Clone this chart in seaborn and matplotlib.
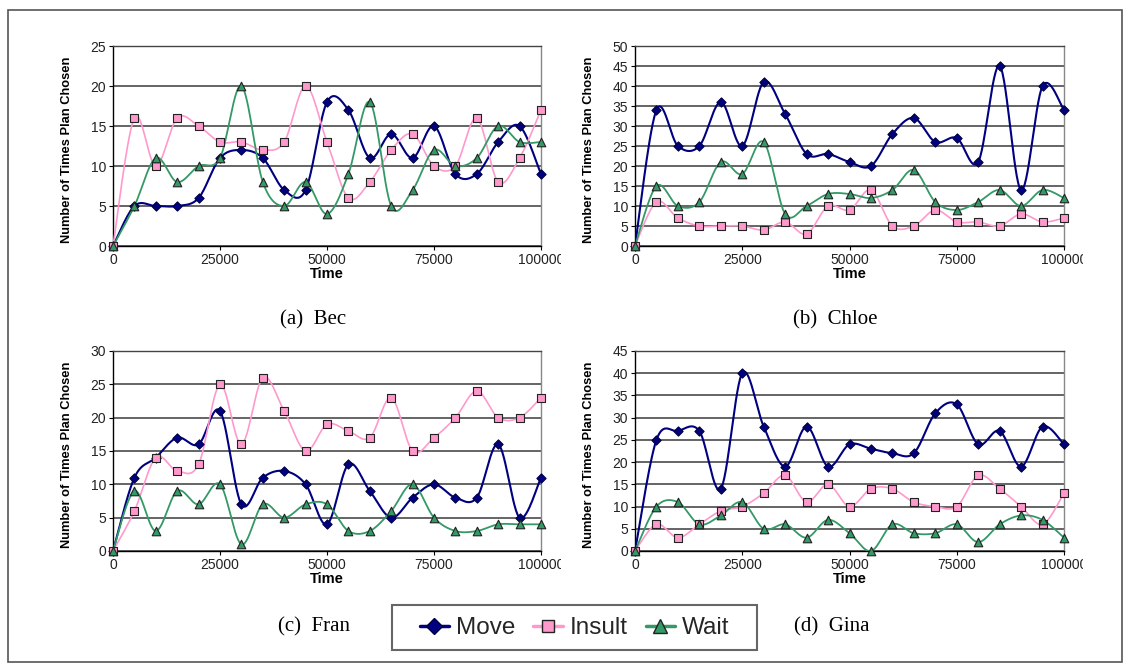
import numpy as np
import pandas as pd
import matplotlib
matplotlib.use("Agg")
import matplotlib.pyplot as plt
import seaborn as sns
from matplotlib.lines import Line2D
from matplotlib.patches import Rectangle
from matplotlib.transforms import Bbox, TransformedBbox

# ---------------- data ----------------
time = list(range(0, 100001, 5000))
plans = ["Move", "Insult", "Wait"]

bec_move   = [0, 5, 5, 5, 6, 11, 12, 11, 7, 7, 18, 17, 11, 14, 11, 15, 9, 9, 13, 15, 9]
bec_insult = [0, 16, 10, 16, 15, 13, 13, 12, 13, 20, 13, 6, 8, 12, 14, 10, 10, 16, 8, 11, 17]
bec_wait   = [0, 5, 11, 8, 10, 11, 20, 8, 5, 8, 4, 9, 18, 5, 7, 12, 10, 11, 15, 13, 13]

chloe_move   = [0, 34, 25, 25, 36, 25, 41, 33, 23, 23, 21, 20, 28, 32, 26, 27, 21, 45, 14, 40, 34]
chloe_insult = [0, 11, 7, 5, 5, 5, 4, 6, 3, 10, 9, 14, 5, 5, 9, 6, 6, 5, 8, 6, 7]
chloe_wait   = [0, 15, 10, 11, 21, 18, 26, 8, 10, 13, 13, 12, 14, 19, 11, 9, 11, 14, 10, 14, 12]

fran_move   = [0, 11, 14, 17, 16, 21, 7, 11, 12, 10, 4, 13, 9, 5, 8, 10, 8, 8, 16, 5, 11]
fran_insult = [0, 6, 14, 12, 13, 25, 16, 26, 21, 15, 19, 18, 17, 23, 15, 17, 20, 24, 20, 20, 23]
fran_wait   = [0, 9, 3, 9, 7, 10, 1, 7, 5, 7, 7, 3, 3, 6, 10, 5, 3, 3, 4, 4, 4]

gina_move   = [0, 25, 27, 27, 14, 40, 28, 19, 28, 19, 24, 23, 22, 22, 31, 33, 24, 27, 19, 28, 24]
gina_insult = [0, 6, 3, 6, 9, 10, 13, 17, 11, 15, 10, 14, 14, 11, 10, 10, 17, 14, 10, 6, 13]
gina_wait   = [0, 10, 11, 6, 8, 11, 5, 6, 3, 7, 4, 0, 6, 4, 4, 6, 2, 6, 8, 7, 3]

panels = [
    ("(a)  Bec",   [bec_move, bec_insult, bec_wait],       25),
    ("(b)  Chloe", [chloe_move, chloe_insult, chloe_wait], 50),
    ("(c)  Fran",  [fran_move, fran_insult, fran_wait],    30),
    ("(d)  Gina",  [gina_move, gina_insult, gina_wait],    45),
]
xticks = [0, 25000, 50000, 75000, 100000]

# ---------------- style ----------------
colors = {"Move": "#000080", "Insult": "#FF99CC", "Wait": "#339966"}
markers = {"Move": "D", "Insult": "s", "Wait": "^"}
msize = {"Move": 22, "Insult": 36, "Wait": 38}
medge = {"Move": "#000040", "Insult": "#222222", "Wait": "#222222"}
lwidth = {"Move": 1.5, "Insult": 1.2, "Wait": 1.3}

sns.set_theme(style="white")
plt.rcParams["font.family"] = ["Liberation Sans", "DejaVu Sans"]


def smooth(x, y, n=30):
    """Excel-like smoothed line (Catmull-Rom Bezier) through the points."""
    x = np.asarray(x, float)
    y = np.asarray(y, float)
    px = np.concatenate([[x[0]], x, [x[-1]]])
    py = np.concatenate([[y[0]], y, [y[-1]]])
    xs, ys = [], []
    m = len(x) - 1
    for i in range(m):
        p0 = np.array([px[i], py[i]])
        p1 = np.array([px[i + 1], py[i + 1]])
        p2 = np.array([px[i + 2], py[i + 2]])
        p3 = np.array([px[i + 3], py[i + 3]])
        c1 = p1 + (p2 - p0) / 6.0
        c2 = p2 - (p3 - p1) / 6.0
        t = np.linspace(0, 1, n, endpoint=(i == m - 1))[:, None]
        b = ((1 - t) ** 3) * p1 + 3 * ((1 - t) ** 2) * t * c1 + 3 * (1 - t) * t ** 2 * c2 + t ** 3 * p2
        xs.append(b[:, 0])
        ys.append(b[:, 1])
    return np.concatenate(xs), np.concatenate(ys)


fig = plt.figure(figsize=(11.3, 6.66), dpi=100)
W, H = 1130.0, 666.0

# axes rectangles in pixels: left, top(y of max), right, bottom(y of 0)
rects = [(113, 46, 541, 246), (635, 46, 1064, 246),
         (113, 351, 541, 551), (635, 351, 1064, 551)]
caption_pos = [(313, 320), (835, 320), (314, 627), (832, 627)]
clip_right = [561, 1083, 561, 1083]

for (cap, series, ymax), (l, t, r, b), (cx, cy), cr in zip(panels, rects, caption_pos, clip_right):
    ax = fig.add_axes([l / W, 1 - b / H, (r - l) / W, (b - t) / H])
    ax.set_facecolor("white")

    line_rows = []
    pt_rows = []
    for plan, vals in zip(plans, series):
        sx, sy = smooth(time, vals)
        line_rows.append(pd.DataFrame({"Time": sx, "Count": sy, "Plan": plan}))
        pt_rows.append(pd.DataFrame({"Time": time, "Count": vals, "Plan": plan}))
    ldf = pd.concat(line_rows, ignore_index=True)
    pdf = pd.concat(pt_rows, ignore_index=True)

    for plan in plans:
        sns.lineplot(data=ldf[ldf.Plan == plan], x="Time", y="Count", color=colors[plan],
                     linewidth=lwidth[plan], sort=False, estimator=None, ax=ax, zorder=3,
                     legend=False)
    for plan in plans:
        sns.scatterplot(data=pdf[pdf.Plan == plan], x="Time", y="Count", color=colors[plan],
                        marker=markers[plan], s=msize[plan], edgecolor=medge[plan],
                        linewidth=0.8, ax=ax, zorder=4, legend=False)
        ax.collections[-1].set_clip_on(False)

    ax.set_xlim(0, 100000)
    ax.set_ylim(0, ymax)
    ax.set_xticks(xticks)
    ax.set_xticklabels([str(v) for v in xticks])
    ax.set_yticks(np.arange(0, ymax + 1, 5))
    ax.yaxis.grid(True, color="#4a4a4a", linewidth=1.2)
    ax.xaxis.grid(False)
    ax.set_axisbelow(True)
    for s in ["left", "bottom"]:
        ax.spines[s].set_color("black")
        ax.spines[s].set_linewidth(1.0)
    ax.spines["top"].set_color("#444444")
    ax.spines["top"].set_linewidth(1.0)
    ax.spines["right"].set_color("#888888")
    ax.spines["right"].set_linewidth(1.0)
    ax.tick_params(axis="both", direction="out", length=3, width=0.8, color="black",
                   labelsize=10, labelcolor="#222222", pad=2, left=True, bottom=True)

    ax.set_ylabel("Number of Times Plan Chosen", fontsize=9.3, fontweight="bold", color="black")
    ax.yaxis.set_label_coords(-0.094, 0.48)
    ax.set_xlabel("Time", fontsize=10.5, fontweight="bold", color="black")
    ax.xaxis.set_label_coords(0.5, -0.105)

    # clip the last tick label like the original
    lab = ax.xaxis.get_major_ticks()[-1].label1
    lab.set_clip_on(True)
    lab.set_clip_box(TransformedBbox(Bbox.from_extents(0, 0, cr / W, 1), fig.transFigure))

    fig.text(cx / W, 1 - cy / H, cap, ha="center", va="center", fontsize=15,
             family=["Liberation Serif", "DejaVu Serif"], color="black")

# legend
handles = [
    Line2D([], [], color=colors["Move"], lw=2.5, marker="D", markersize=8,
           markerfacecolor=colors["Move"], markeredgecolor="#000040"),
    Line2D([], [], color=colors["Insult"], lw=2.5, marker="s", markersize=9,
           markerfacecolor=colors["Insult"], markeredgecolor="#222222"),
    Line2D([], [], color=colors["Wait"], lw=2.5, marker="^", markersize=10,
           markerfacecolor=colors["Wait"], markeredgecolor="#222222"),
]
fig.legend(handles, plans, loc="center", bbox_to_anchor=(574.5 / W, 1 - 628 / H), ncol=3,
           frameon=False, fontsize=17.5, handlelength=1.2, handletextpad=0.28,
           columnspacing=0.75, borderpad=0.2)
fig.patches.append(Rectangle((392 / W, 1 - 650 / H), (757 - 392) / W, 45 / H,
                             transform=fig.transFigure, fill=False, edgecolor="#666666",
                             linewidth=1.5))
# outer frame
fig.patches.append(Rectangle((8 / W, 1 - 662 / H), (1122 - 8) / W, (662 - 10) / H,
                             transform=fig.transFigure, fill=False, edgecolor="#555555",
                             linewidth=1.2))

fig.savefig("out.png", dpi=100, facecolor="white")
